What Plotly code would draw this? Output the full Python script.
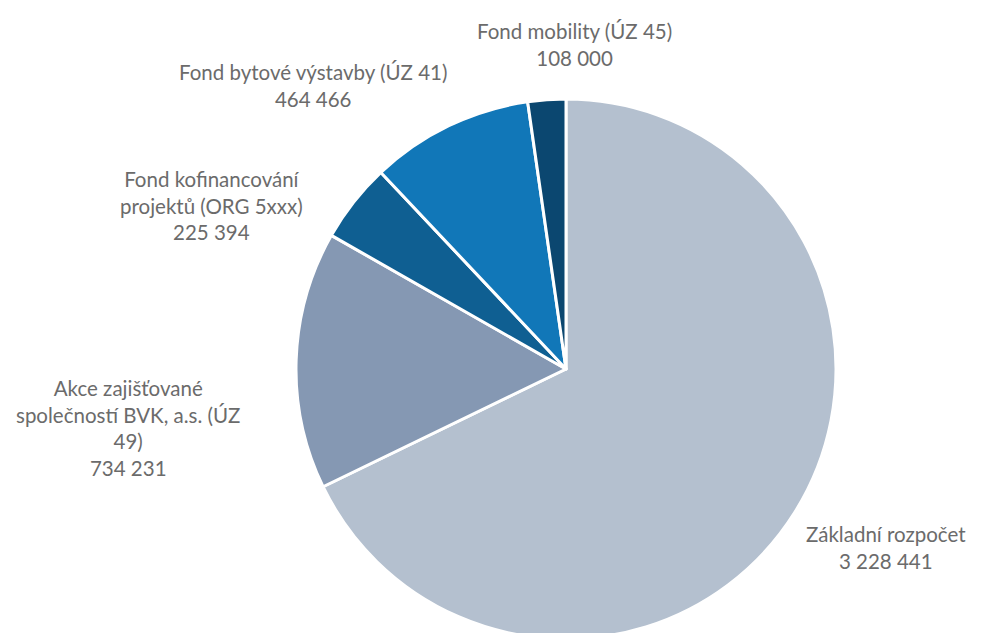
import plotly.graph_objects as go

# ---- data ----
labels = [
    "Základní rozpočet",
    "Akce zajišťované<br>společností BVK, a.s. (ÚZ<br>49)",
    "Fond kofinancování<br>projektů (ORG 5xxx)",
    "Fond bytové výstavby (ÚZ 41)",
    "Fond mobility (ÚZ 45)",
]
values = [3228441, 734231, 225394, 464466, 108000]
colors = ["#B4C0CF", "#8598B3", "#0F5F92", "#1177B8", "#0B4770"]

# ---- layout (label centres in pixels) ----
W, H = 991, 633
label_px = [(878, 539), (120, 420), (203, 197), (305, 77), (566, 37)]

def fmt(v):
    return f"{v:,}".replace(",", " ")

fig = go.Figure(go.Pie(
    labels=labels,
    values=values,
    sort=False,
    direction="clockwise",
    rotation=0,
    marker=dict(colors=colors, line=dict(color="white", width=3)),
    textinfo="none",
    hoverinfo="label+value",
    domain=dict(x=[288 / W, 828 / W], y=[2 / H, 542 / H]),
    showlegend=False,
))

for lab, v, (px, py) in zip(labels, values, label_px):
    fig.add_annotation(
        x=px / W, y=1 - py / H, xref="paper", yref="paper",
        text=f"{lab}<br>{fmt(v)}", showarrow=False,
        xanchor="center", yanchor="middle", align="center",
        font=dict(family="Lato, Open Sans, sans-serif", size=20.5, color="#6B6B6B"),
    )

fig.update_layout(
    width=W, height=H,
    margin=dict(l=0, r=0, t=0, b=0),
    paper_bgcolor="white",
    plot_bgcolor="white",
)

fig.write_html("out.html")
